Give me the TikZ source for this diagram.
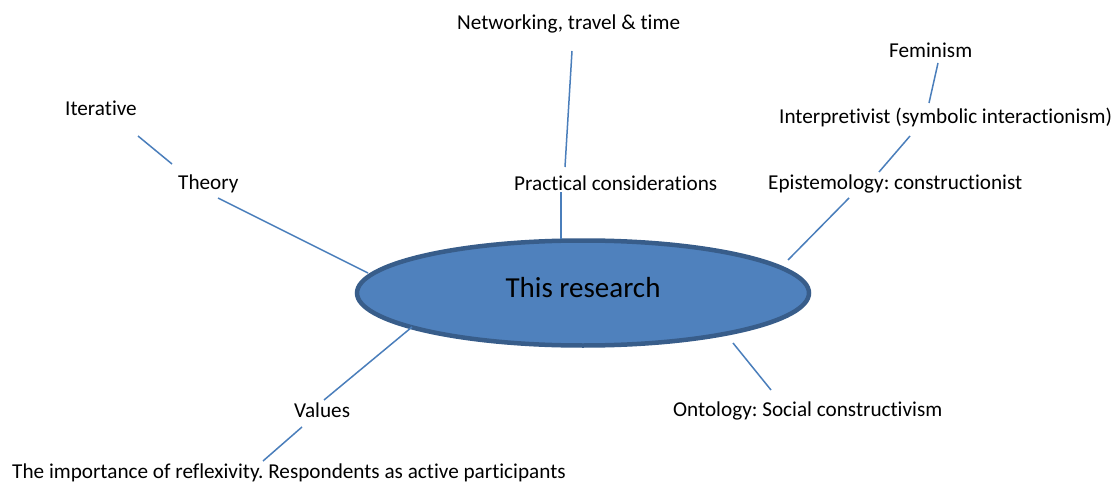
\documentclass[tikz,border=0pt]{standalone}
\usepackage{fontspec}
\setmainfont[Ligatures={NoCommon,TeX}]{Carlito}
\frenchspacing
\definecolor{ellfill}{HTML}{4F81BD}
\definecolor{elldraw}{HTML}{385D8A}
\definecolor{linkcol}{HTML}{4A7EBB}
\begin{document}
\begin{tikzpicture}[x=1pt,y=-1pt,
  lbl/.style={anchor=base west,inner sep=0pt,font=\fontsize{21.2}{25}\selectfont,text=black},
  link/.style={draw=linkcol,line width=1.5pt}]
\useasboundingbox[fill=white] (0,0) rectangle (1119,484);
% central ellipse
\draw[fill=ellfill,draw=elldraw,line width=4.5pt] (583,293) ellipse [x radius=226,y radius=52.5];
\node[anchor=base,inner sep=0pt,font=\fontsize{29}{34}\selectfont] (res) at (583,297) {This research};
% labels
\node[lbl] (net) at (457,30) {Networking, travel \& time};
\node[lbl] (prac) at (514,190) {Practical considerations};
\node[lbl] (iter) at (65,116) {Iterative};
\node[lbl] (theo) at (178,189) {Theory};
\node[lbl] (fem) at (889,58) {Feminism};
\node[lbl] (interp) at (779,124) {Interpretivist (symbolic interactionism)};
\node[lbl] (epi) at (768,189) {Epistemology: constructionist};
\node[lbl] (val) at (294,417) {Values};
\node[lbl] (refl) at (12,478) {The importance of reflexivity. Respondents as active participants};
\node[lbl] (onto) at (673,416) {Ontology: Social constructivism};
% connector end points
\coordinate (n1) at (572,51);  \coordinate (n2) at (565,167);
\coordinate (p1) at (561,192); \coordinate (p2) at (561,239);
\coordinate (i1) at (138,136); \coordinate (i2) at (172,164);
\coordinate (t1) at (218,198); \coordinate (t2) at (368,273);
\coordinate (f1) at (938,63);  \coordinate (f2) at (929,103);
\coordinate (ip1) at (910,136); \coordinate (ip2) at (879,172);
\coordinate (e1) at (849,198); \coordinate (e2) at (788,260);
\coordinate (v1) at (412,327); \coordinate (v2) at (324,400);
\coordinate (r1) at (302,427); \coordinate (r2) at (263,461);
\coordinate (o1) at (733,343); \coordinate (o2) at (771,390);
% connectors
\draw[link] (n1) -- (n2);
\draw[link] (p1) -- (p2);
\draw[link] (i1) -- (i2);
\draw[link] (t1) -- (t2);
\draw[link] (f1) -- (f2);
\draw[link] (ip1) -- (ip2);
\draw[link] (e1) -- (e2);
\draw[link] (v1) -- (v2);
\draw[link] (r1) -- (r2);
\draw[link] (o1) -- (o2);
\end{tikzpicture}
\end{document}
